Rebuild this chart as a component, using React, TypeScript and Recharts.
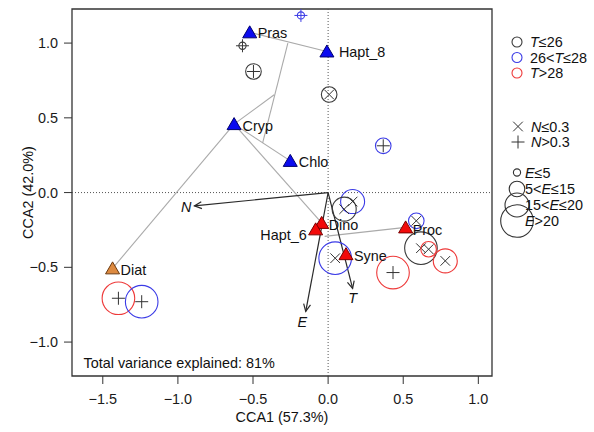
import React from 'react';
import { ScatterChart, Scatter, XAxis, YAxis, ReferenceLine, ReferenceArea } from 'recharts';

const FONT = '"Liberation Sans", Arial, Helvetica, sans-serif';
const FS = 14.4;

// Axis ticks and domains
const xTicks = [-1.5, -1.0, -0.5, 0.0, 0.5, 1.0];
const yTicks = [-1.0, -0.5, 0.0, 0.5, 1.0];
const xDomain: [number, number] = [-1.705, 1.091];
const yDomain: [number, number] = [-1.227, 1.228];

// Species (triangles)
const speciesNames = ['Pras', 'Hapt_8', 'Cryp', 'Chlo', 'Dino', 'Hapt_6', 'Syne', 'Proc', 'Diat'];
const speciesX = [-0.522, -0.008, -0.626, -0.252, -0.043, -0.083, 0.119, 0.516, -1.435];
const speciesY = [1.072, 0.944, 0.458, 0.212, -0.203, -0.246, -0.412, -0.233, -0.507];
const speciesGroup = ['blue', 'blue', 'blue', 'blue', 'red', 'red', 'red', 'red', 'orange'];

// Sites (circles)
const siteX = [-0.181, -0.570, -0.497, 0.007, 0.367, 0.163, 0.107, 0.587, 0.618, 0.669, 0.780, 0.432, 0.047, -1.396, -1.241];
const siteY = [1.185, 0.982, 0.810, 0.656, 0.313, -0.060, -0.111, -0.189, -0.372, -0.379, -0.457, -0.535, -0.439, -0.707, -0.730];
const siteT = [1, 0, 0, 0, 1, 1, 0, 1, 0, 2, 2, 2, 1, 2, 1]; // 0: T<=26, 1: 26<T<=28, 2: T>28
const siteN = [1, 1, 1, 0, 1, 0, 0, 0, 0, 0, 0, 1, 0, 1, 1]; // 0: N<=0.3 (x), 1: N>0.3 (+)
const siteE = [0, 0, 1, 1, 1, 2, 2, 1, 3, 1, 2, 3, 3, 3, 3]; // E classes

// Environmental vectors
const envNames = ['N', 'E', 'T'];
const envX = [-0.89, -0.149, 0.163];
const envY = [-0.089, -0.795, -0.641];

// Gray connecting tree (segments: x1, y1, x2, y2)
const treeX1 = [-0.522, -0.268, -0.359, -0.626, -0.626, -0.626, -0.023];
const treeY1 = [1.072, 1.0, 0.654, 0.458, 0.458, 0.458, -0.293];
const treeX2 = [-0.008, -0.436, -0.626, -0.252, -1.435, -0.043, 0.516];
const treeY2 = [0.944, 0.331, 0.458, 0.212, -0.507, -0.203, -0.233];

// Legend labels
const tLegend = [['', 'T', '\u226426'], ['26<', 'T', '\u226428'], ['', 'T', '>28']];
const nLegend = [['', 'N', '\u22640.3'], ['', 'N', '>0.3']];
const eLegend = [['', 'E', '\u22645'], ['5<', 'E', '\u226415'], ['15<', 'E', '\u226420'], ['', 'E', '>20']];

const tColors = ['#3a3a3a', '#3b3be6', '#ee3a3a'];
const eRadius = [3.6, 7.8, 12, 16.3];
const triFill: Record<string, string> = { blue: '#0b0bf0', red: '#f20a0a', orange: '#dd8a40' };
const triStroke: Record<string, string> = { blue: '#00006e', red: '#7a0000', orange: '#6b3a10' };
const labelStyle: Record<string, { dx: number; dy: number; anchor: string }> = {
  Pras: { dx: 8, dy: 1, anchor: 'start' },
  Hapt_8: { dx: 12, dy: 1, anchor: 'start' },
  Cryp: { dx: 8.5, dy: 1.5, anchor: 'start' },
  Chlo: { dx: 8.5, dy: 1, anchor: 'start' },
  Dino: { dx: 7, dy: 2, anchor: 'start' },
  Hapt_6: { dx: -9, dy: 5.5, anchor: 'end' },
  Syne: { dx: 8, dy: 1.5, anchor: 'start' },
  Proc: { dx: 7, dy: 2.5, anchor: 'start' },
  Diat: { dx: 8, dy: 2, anchor: 'start' },
};
const envLabel: Record<string, { dx: number; dy: number; anchor: string }> = {
  N: { dx: -3, dy: 1, anchor: 'end' },
  E: { dx: -3.5, dy: 11, anchor: 'middle' },
  T: { dx: 0, dy: 9.5, anchor: 'middle' },
};

const fmt = (v: number) => (v < 0 ? '\u2212' : '') + Math.abs(v).toFixed(1);

const Cross = ({ cx, cy, kind, color }: { cx: number; cy: number; kind: number; color: string }) => {
  if (kind === 1) {
    const a = 6.5;
    return (
      <g stroke={color} strokeWidth={1}>
        <line x1={cx - a} y1={cy} x2={cx + a} y2={cy} />
        <line x1={cx} y1={cy - a} x2={cx} y2={cy + a} />
      </g>
    );
  }
  const a = 4.8;
  return (
    <g stroke={color} strokeWidth={1}>
      <line x1={cx - a} y1={cy - a} x2={cx + a} y2={cy + a} />
      <line x1={cx - a} y1={cy + a} x2={cx + a} y2={cy - a} />
    </g>
  );
};

const SiteShape = (p: any) => {
  const { cx, cy, payload } = p;
  const col = tColors[payload.t];
  const crossCol = payload.e === 0 ? col : '#333';
  return (
    <g>
      <circle cx={cx} cy={cy} r={eRadius[payload.e]} fill="none" stroke={col} strokeWidth={1.1} />
      <Cross cx={cx} cy={cy} kind={payload.n} color={crossCol} />
    </g>
  );
};

const SpeciesShape = (p: any) => {
  const { cx, cy, payload } = p;
  const ls = labelStyle[payload.name];
  const pts = `${cx},${cy - 6.5} ${cx - 7},${cy + 5.5} ${cx + 7},${cy + 5.5}`;
  return (
    <g>
      <polygon points={pts} fill={triFill[payload.group]} stroke={triStroke[payload.group]} strokeWidth={1} />
      <text x={cx + ls.dx} y={cy + ls.dy} dy="0.35em" textAnchor={ls.anchor as any} fontSize={FS} fill="#111" fontFamily={FONT}>
        {payload.name}
      </text>
    </g>
  );
};

const EnvLabelShape = (p: any) => {
  const { cx, cy, payload } = p;
  const ls = envLabel[payload.name];
  return (
    <text x={cx + ls.dx} y={cy + ls.dy} dy="0.35em" textAnchor={ls.anchor as any} fontSize={FS} fontStyle="italic" fill="#111" fontFamily={FONT}>
      {payload.name}
    </text>
  );
};

const ArrowShape = (p: any) => {
  const x1 = Number(p.x1), y1 = Number(p.y1), x2 = Number(p.x2), y2 = Number(p.y2);
  const ang = Math.atan2(y2 - y1, x2 - x1);
  const L = 8;
  const a = Math.PI / 7;
  const ax = x2 - L * Math.cos(ang - a);
  const ay = y2 - L * Math.sin(ang - a);
  const bx = x2 - L * Math.cos(ang + a);
  const by = y2 - L * Math.sin(ang + a);
  return (
    <g stroke="#2a2a2a" strokeWidth={1.2} fill="none">
      <line x1={x1} y1={y1} x2={x2} y2={y2} />
      <polyline points={`${ax},${ay} ${x2},${y2} ${bx},${by}`} />
    </g>
  );
};

const LegendText = ({ x, y, parts }: { x: number; y: number; parts: string[] }) => (
  <text x={x} y={y} dy="0.35em" fontSize={FS} fill="#111" fontFamily={FONT}>
    {parts[0] && <tspan>{parts[0]}</tspan>}
    <tspan fontStyle="italic">{parts[1]}</tspan>
    <tspan>{parts[2]}</tspan>
  </text>
);

export default function App() {
  const speciesData = speciesNames.map((name, i) => ({ name, x: speciesX[i], y: speciesY[i], group: speciesGroup[i] }));
  const siteData = siteX.map((x, i) => ({ x, y: siteY[i], t: siteT[i], n: siteN[i], e: siteE[i] }));
  const envData = envNames.map((name, i) => ({ name, x: envX[i], y: envY[i] }));

  const tY = [42, 57.5, 73];
  const nY = [126.5, 142];
  const eY = [172.5, 189, 205, 221];

  return (
    <div style={{ position: 'absolute', left: 0, top: 0, width: 594, height: 432, fontFamily: FONT, background: '#fff' }}>
      <ScatterChart width={594} height={432} margin={{ top: 9, right: 102, bottom: 0, left: 0 }}>
        <XAxis
          type="number"
          dataKey="x"
          domain={xDomain}
          ticks={xTicks}
          allowDataOverflow
          interval={0}
          axisLine={false}
          tickLine={{ stroke: '#333' }}
          tickSize={8}
          tickMargin={10}
          tick={{ fontSize: FS, fill: '#1a1a1a' }}
          tickFormatter={fmt}
          height={56}
        />
        <YAxis
          type="number"
          dataKey="y"
          domain={yDomain}
          ticks={yTicks}
          allowDataOverflow
          interval={0}
          axisLine={false}
          tickLine={{ stroke: '#333' }}
          tickSize={8}
          tickMargin={6}
          tick={{ fontSize: FS, fill: '#1a1a1a' }}
          tickFormatter={fmt}
          width={72}
        />
        <ReferenceLine x={0} stroke="#555" strokeDasharray="1 2" />
        <ReferenceLine y={0} stroke="#555" strokeDasharray="1 2" />
        {treeX1.map((_, i) => (
          <ReferenceLine
            key={'tree' + i}
            segment={[{ x: treeX1[i], y: treeY1[i] }, { x: treeX2[i], y: treeY2[i] }]}
            stroke="#aaaaaa"
            strokeWidth={1.1}
          />
        ))}
        {envData.map((e) => (
          <ReferenceLine key={'env' + e.name} segment={[{ x: 0, y: 0 }, { x: e.x, y: e.y }]} shape={ArrowShape} />
        ))}
        <Scatter data={siteData} shape={SiteShape} isAnimationActive={false} />
        <Scatter data={speciesData} shape={SpeciesShape} isAnimationActive={false} />
        <Scatter data={envData} shape={EnvLabelShape} isAnimationActive={false} />
        <ReferenceArea
          x1={xDomain[0]}
          x2={xDomain[1]}
          y1={yDomain[0]}
          y2={yDomain[1]}
          fill="none"
          fillOpacity={0}
          stroke="#333"
          strokeWidth={1.3}
          ifOverflow="visible"
        />
      </ScatterChart>
      <svg width={594} height={432} style={{ position: 'absolute', left: 0, top: 0, pointerEvents: 'none' }}>
        <text x={282} y={416.5} dy="0.35em" textAnchor="middle" fontSize={FS} fill="#111" fontFamily={FONT}>
          CCA1 (57.3%)
        </text>
        <text x={27.5} y={192.5} dy="0.35em" textAnchor="middle" fontSize={FS} fill="#111" fontFamily={FONT} transform="rotate(-90 27.5 192.5)">
          CCA2 (42.0%)
        </text>
        <text x={83.5} y={363} dy="0.35em" fontSize={FS} fill="#111" fontFamily={FONT}>
          Total variance explained: 81%
        </text>
        {tLegend.map((parts, i) => (
          <g key={'tl' + i}>
            <circle cx={517} cy={tY[i]} r={5} fill="none" stroke={tColors[i]} strokeWidth={1.1} />
            <LegendText x={530} y={tY[i]} parts={parts} />
          </g>
        ))}
        {nLegend.map((parts, i) => (
          <g key={'nl' + i}>
            <Cross cx={518} cy={nY[i]} kind={i} color="#333" />
            <LegendText x={531} y={nY[i]} parts={parts} />
          </g>
        ))}
        {eLegend.map((parts, i) => (
          <g key={'el' + i}>
            <circle cx={517} cy={eY[i]} r={eRadius[i]} fill="none" stroke="#333" strokeWidth={1.1} />
            <LegendText x={525} y={eY[i]} parts={parts} />
          </g>
        ))}
      </svg>
    </div>
  );
}
